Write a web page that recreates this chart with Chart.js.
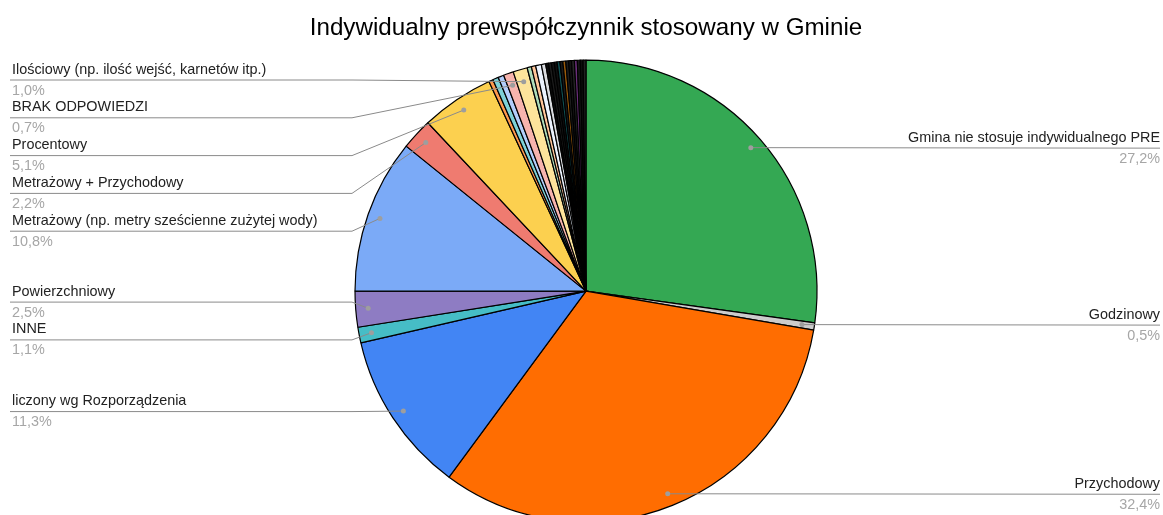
<!DOCTYPE html>
<html>
<head>
<meta charset="utf-8">
<script src="https://cdn.jsdelivr.net/npm/chart.js@4.4.0/dist/chart.umd.min.js"></script>
<style>
  body { margin: 0; background: #fff; overflow: hidden; }
</style>
</head>
<body>
<canvas id="pieChart" width="1163" height="515"></canvas>
<script>
// slices, clockwise from 12 o'clock
const categories = [
    'Gmina nie stosuje indywidualnego PRE',
    'Godzinowy',
    'Przychodowy',
    'liczony wg Rozporządzenia',
    'INNE',
    'Powierzchniowy',
    'Metrażowy (np. metry sześcienne zużytej wody)',
    'Metrażowy + Przychodowy',
    'Procentowy',
    'Inna odpowiedź 1',
    'Inna odpowiedź 2',
    'Inna odpowiedź 3',
    'BRAK ODPOWIEDZI',
    'Ilościowy (np. ilość wejść, karnetów itp.)',
    'Inna odpowiedź 4',
    'Inna odpowiedź 5',
    'Inna odpowiedź 6',
    'Inna odpowiedź 7',
    'Inna odpowiedź 8',
    'Inna odpowiedź 9',
    'Inna odpowiedź 10',
    'Inna odpowiedź 11',
    'Inna odpowiedź 12',
    'Inna odpowiedź 13',
    'Inna odpowiedź 14',
    'Inna odpowiedź 15',
    'Inna odpowiedź 16',
    'Inna odpowiedź 17',
    'Inna odpowiedź 18',
    'Inna odpowiedź 19',
    'Inna odpowiedź 20',
    'Inna odpowiedź 21'
];

const shares = [
    27.2, 0.5, 32.4, 11.3, 1.1, 2.5, 10.8, 2.2, 5.1,
    0.3, 0.4, 0.4,
    0.7, 1.0,
    0.3, 0.3, 0.4, 0.3,
    0.2, 0.2, 0.2, 0.2, 0.2, 0.2, 0.2, 0.2, 0.2, 0.2, 0.2, 0.2, 0.2, 0.2
];

const sliceColors = [
    '#34a853', '#cccccc', '#ff6d01', '#4285f4', '#46bdc6', '#8e7cc3', '#7baaf7', '#ef7b70', '#fcd04f',
    '#ff994d', '#7ed1d7', '#b3cefb',
    '#f7b4ae', '#fde49b',
    '#aedcba', '#ffc599', '#ecf3fe', '#dadce0',
    '#0b0b0b', '#1c1c1c', '#141414', '#101010', '#0f4f52', '#1a1a1a', '#9a5a0a', '#1d1d1d',
    '#121212', '#262626', '#6b2f7b', '#181818', '#0d0d0d', '#202020'
];

const chartTitle = 'Indywidualny prewspółczynnik stosowany w Gminie';

// put overlapping labels apart, keep groups centred on their slices
function spreadLabels(items, gap, minY) {
    items.sort((a, b) => a.y - b.y);
    let groups = items.map(it => ({ items: [it], sum: it.y }));
    let merged = true;
    while (merged) {
        merged = false;
        groups.forEach(g => {
            g.top = Math.max(minY, g.sum / g.items.length - (g.items.length - 1) * gap / 2);
        });
        for (let k = 1; k < groups.length; k++) {
            let a = groups[k - 1], b = groups[k];
            if (a.top + a.items.length * gap > b.top) {
                a.items = a.items.concat(b.items);
                a.sum += b.sum;
                groups.splice(k, 1);
                merged = true;
                break;
            }
        }
    }
    groups.forEach(g => g.items.forEach((it, n) => { it.ly = g.top + n * gap; }));
}

const sideLabels = {
    id: 'sideLabels',
    afterDatasetsDraw(chart) {
        const ctx = chart.ctx;
        const meta = chart.getDatasetMeta(0);
        let left = [], right = [];

        meta.data.forEach((arc, i) => {
            if (shares[i] < 0.5) return;
            const mid = (arc.startAngle + arc.endAngle) / 2;
            const r = arc.outerRadius - 12.5;
            const p = { i: i, x: arc.x + Math.cos(mid) * r, y: arc.y + Math.sin(mid) * r };
            if (Math.cos(mid) >= 0) right.push(p); else left.push(p);
        });

        spreadLabels(left, 37.8, 79.5);
        spreadLabels(right, 37.8, 79.5);

        ctx.save();
        ctx.font = '14.4px "Liberation Sans", Arial, sans-serif';
        ctx.lineWidth = 1;

        left.forEach(p => {
            ctx.strokeStyle = '#8a8a8a';
            ctx.beginPath();
            ctx.moveTo(10, p.ly + 0.5);
            ctx.lineTo(352, p.ly + 0.5);
            ctx.lineTo(p.x, p.y);
            ctx.stroke();
            ctx.textAlign = 'left';
            ctx.fillStyle = '#222222';
            ctx.fillText(categories[p.i], 12, p.ly - 6);
            ctx.fillStyle = '#a6a6a6';
            ctx.fillText(shares[p.i].toFixed(1).replace('.', ',') + '%', 12, p.ly + 15);
        });

        right.forEach(p => {
            ctx.strokeStyle = '#8a8a8a';
            ctx.beginPath();
            ctx.moveTo(p.x, p.y);
            if (Math.abs(p.ly - p.y) > 1) ctx.lineTo(820, p.ly + 0.5);
            ctx.lineTo(1160, p.ly + 0.5);
            ctx.stroke();
            ctx.textAlign = 'right';
            ctx.fillStyle = '#222222';
            ctx.fillText(categories[p.i], 1160, p.ly - 6);
            ctx.fillStyle = '#a6a6a6';
            ctx.fillText(shares[p.i].toFixed(1).replace('.', ',') + '%', 1160, p.ly + 15);
        });

        ctx.fillStyle = '#9e9e9e';
        left.concat(right).forEach(p => {
            ctx.beginPath();
            ctx.arc(p.x, p.y, 2.5, 0, Math.PI * 2);
            ctx.fill();
        });
        ctx.restore();
    }
};

new Chart(document.getElementById('pieChart'), {
    type: 'pie',
    data: {
        labels: categories,
        datasets: [{
            data: shares,
            backgroundColor: sliceColors,
            borderColor: '#000000',
            borderWidth: 1.2,
            clip: false
        }]
    },
    options: {
        responsive: false,
        animation: false,
        devicePixelRatio: 1,
        radius: 231,
        layout: {
            padding: { left: 20, right: 11, top: 0, bottom: 0 }
        },
        plugins: {
            legend: { display: false },
            tooltip: { enabled: false },
            title: {
                display: true,
                text: chartTitle,
                fullSize: false,
                color: '#000000',
                font: { family: '"Liberation Sans", Arial, sans-serif', size: 24.2, weight: 'normal', lineHeight: 1.2 },
                padding: { top: 14, bottom: 24.2 }
            }
        }
    },
    plugins: [sideLabels]
});
</script>
</body>
</html>
